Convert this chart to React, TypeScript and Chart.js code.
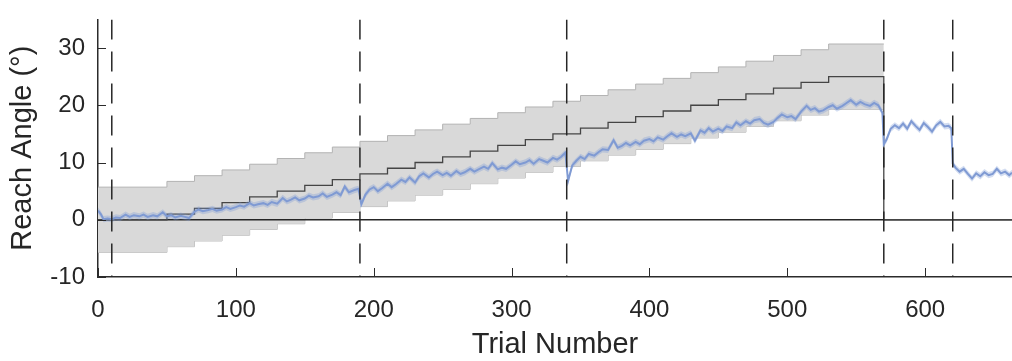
import React, { useEffect, useRef } from 'react';
import { Chart, registerables } from 'chart.js';

Chart.register(...registerables);

// ---- data ----
const trials = [
  0, 2, 4, 7, 10, 13, 16, 20, 23, 26,
  30, 33, 36, 40, 43, 47, 50, 53, 56, 60,
  63, 66, 70, 73, 76, 80, 83, 86, 90, 93,
  96, 100, 103, 106, 110, 113, 116, 120, 123, 126,
  130, 134, 137, 140, 143, 146, 150, 153, 156, 160,
  163, 166, 170, 173, 176, 179, 182, 186, 189, 191,
  194, 197, 200, 203, 206, 210, 213, 216, 220, 223,
  226, 230, 233, 236, 240, 243, 246, 250, 253, 256,
  260, 263, 266, 270, 273, 276, 280, 283, 286, 290,
  293, 296, 300, 303, 306, 310, 313, 316, 320, 323,
  326, 330, 333, 336, 339, 341, 344, 347, 350, 353,
  356, 360, 363, 366, 370, 374, 377, 380, 383, 386,
  390, 393, 396, 400, 403, 406, 410, 413, 416, 420,
  423, 426, 430, 433, 437, 440, 443, 446, 450, 453,
  456, 460, 463, 466, 470, 473, 476, 480, 483, 486,
  490, 493, 496, 500, 503, 506, 510, 514, 517, 520,
  523, 526, 530, 533, 536, 540, 543, 546, 550, 553,
  556, 560, 563, 566, 569, 570, 572, 575, 578, 581,
  584, 587, 590, 593, 596, 599, 602, 605, 608, 611,
  614, 617, 619, 620, 622, 625, 628, 631, 634, 637,
  640, 643, 646, 649, 652, 655, 658, 661, 663,
];

const meanAngle = [
  1.6, 1.0, 0.1, 0.2, 0.1, 0.4, 0.3, 0.9, 0.5, 0.8,
  0.6, 0.9, 0.5, 0.8, 0.6, 1.3, 0.6, 0.8, 0.4, 0.7,
  0.5, 0.3, 1.4, 1.8, 1.5, 1.7, 1.9, 1.6, 1.8, 2.2,
  1.9, 2.2, 2.5, 2.3, 2.9, 2.5, 2.7, 2.9, 2.6, 3.1,
  2.8, 3.8, 3.2, 3.5, 3.9, 3.4, 3.7, 4.2, 3.9, 4.1,
  4.6, 4.0, 4.4, 4.8, 4.3, 5.8, 4.8, 5.2, 5.4, 2.7,
  4.4, 5.3, 5.7, 5.0, 5.5, 6.3, 5.7, 6.2, 7.0, 6.6,
  7.4, 6.5, 7.6, 8.1, 7.4, 8.0, 8.4, 7.8, 8.2, 7.7,
  8.5, 8.0, 8.3, 8.9, 8.4, 8.8, 9.3, 8.9, 9.9, 8.8,
  9.1, 8.9, 9.6, 10.2, 9.7, 10.0, 10.4, 9.8, 10.6, 10.3,
  10.0, 10.8, 10.5, 11.0, 11.7, 6.8, 9.5, 10.3, 11.0, 10.6,
  11.5, 11.2, 11.8, 12.3, 12.2, 13.9, 12.6, 12.9, 13.4, 13.0,
  13.6, 13.2, 13.8, 14.1, 13.7, 14.4, 14.0, 14.6, 15.1, 14.5,
  14.9, 14.6, 15.1, 13.8, 15.6, 15.2, 16.0, 15.4, 15.9, 15.5,
  16.3, 16.0, 17.0, 16.5, 17.2, 16.8, 17.4, 17.6, 16.9, 16.6,
  17.1, 17.8, 18.4, 17.9, 18.1, 17.6, 18.9, 19.9, 19.2, 19.5,
  18.9, 19.1, 19.7, 20.0, 19.4, 19.9, 20.4, 20.9, 20.1, 20.6,
  20.2, 19.9, 20.4, 20.0, 18.7, 13.2, 14.0, 15.9, 16.5, 16.0,
  16.8, 15.9, 17.2, 16.4, 15.7, 16.9, 16.2, 15.4, 16.5, 17.1,
  16.3, 16.4, 16.0, 9.8, 9.1, 8.4, 8.9, 8.0, 7.2, 8.1,
  7.6, 8.3, 7.8, 8.0, 8.9, 8.1, 8.4, 7.8, 8.2,
];
const MEAN_SE = 0.55;

// perturbation schedule (step function)
const stepTrials = [
  0, 50, 70, 90, 110, 130, 150, 170, 190, 210, 230, 250, 270, 290,
  310, 330, 350, 370, 390, 410, 430, 450, 470, 490, 510, 530, 570, 570, 663,
];
const stepLevels = [
  0, 1, 2, 3, 4, 5, 6, 7, 8, 9, 10, 11, 12, 13,
  14, 15, 16, 17, 18, 19, 20, 21, 22, 23, 24, 25, 25, 0, 0,
];
const BAND_HALF = 5.7;
const BAND_END_INDEX = 27; // band covers steps through trial 570

const phaseBoundaries = [10, 190, 340, 570, 620];
const xTickValues = [0, 100, 200, 300, 400, 500, 600];
const yTickValues = [-10, 0, 10, 20, 30];
const X_MIN = 0;
const X_MAX = 663;
const Y_MIN = -10;
const Y_MAX = 35;

const AXIS_COLOR = '#2b2b2b';
const FONT = '"Liberation Sans", Arial, Helvetica, sans-serif';

const innerTicks = {
  id: 'innerTicks',
  afterDraw(chart: any) {
    const { ctx, chartArea, scales } = chart;
    const xs = scales.x;
    const ys = scales.y;
    ctx.save();
    ctx.strokeStyle = AXIS_COLOR;
    ctx.lineWidth = 1;
    xs.ticks.forEach((t: any) => {
      const px = Math.round(xs.getPixelForValue(t.value)) + 0.5;
      ctx.beginPath();
      ctx.moveTo(px, chartArea.bottom);
      ctx.lineTo(px, chartArea.bottom - 9);
      ctx.stroke();
    });
    ys.ticks.forEach((t: any) => {
      const py = Math.round(ys.getPixelForValue(t.value)) + 0.5;
      ctx.beginPath();
      ctx.moveTo(chartArea.left, py);
      ctx.lineTo(chartArea.left + 8, py);
      ctx.stroke();
    });
    ctx.restore();
  },
};

export default function App() {
  const canvasRef = useRef<HTMLCanvasElement | null>(null);

  useEffect(() => {
    const canvas = canvasRef.current;
    if (!canvas) return;

    const bandTrials = stepTrials.slice(0, BAND_END_INDEX);
    const bandLevels = stepLevels.slice(0, BAND_END_INDEX);
    const upperBand = bandTrials.map((t, i) => ({ x: t, y: bandLevels[i] + BAND_HALF }));
    const lowerBand = bandTrials.map((t, i) => ({ x: t, y: bandLevels[i] - BAND_HALF }));
    const perturb = stepTrials.map((t, i) => ({ x: t, y: stepLevels[i] }));
    const meanPts = trials.map((t, i) => ({ x: t, y: meanAngle[i] }));
    const seUpper = trials.map((t, i) => ({ x: t, y: meanAngle[i] + MEAN_SE }));
    const seLower = trials.map((t, i) => ({ x: t, y: meanAngle[i] - MEAN_SE }));

    const common = { pointRadius: 0, pointHoverRadius: 0, tension: 0 };

    const datasets: any[] = [
      {
        ...common,
        data: upperBand,
        stepped: 'before',
        borderColor: '#b3b3b3',
        borderWidth: 1,
        backgroundColor: '#d9d9d9',
        fill: '+1',
        order: 10,
      },
      {
        ...common,
        data: lowerBand,
        stepped: 'before',
        borderColor: '#b3b3b3',
        borderWidth: 1,
        fill: false,
        order: 10,
      },
      {
        ...common,
        data: [{ x: X_MIN, y: 0 }, { x: X_MAX, y: 0 }],
        borderColor: '#262626',
        borderWidth: 1.5,
        fill: false,
        order: 9,
      },
      {
        ...common,
        data: perturb,
        stepped: 'before',
        borderColor: '#454545',
        borderWidth: 1.3,
        fill: false,
        order: 8,
      },
      {
        ...common,
        data: seUpper,
        borderWidth: 0,
        borderColor: 'rgba(0,0,0,0)',
        backgroundColor: 'rgba(130,158,214,0.35)',
        fill: '+1',
        order: 7,
      },
      {
        ...common,
        data: seLower,
        borderWidth: 0,
        borderColor: 'rgba(0,0,0,0)',
        fill: false,
        order: 7,
      },
      {
        ...common,
        data: meanPts,
        borderColor: '#7f9ad3',
        borderWidth: 2,
        fill: false,
        order: 6,
      },
      ...phaseBoundaries.map((b) => ({
        ...common,
        data: [{ x: b, y: Y_MAX }, { x: b, y: Y_MIN }],
        borderColor: '#262626',
        borderWidth: 1.5,
        borderDash: [20, 12],
        fill: false,
        order: 5,
      })),
    ];

    const chart = new Chart(canvas, {
      type: 'line',
      data: { datasets },
      plugins: [innerTicks],
      options: {
        animation: false,
        responsive: false,
        maintainAspectRatio: false,
        parsing: false as any,
        normalized: true,
        layout: { padding: { left: 0, top: 16, right: 0, bottom: 0 } },
        plugins: {
          legend: { display: false },
          tooltip: { enabled: false },
        },
        scales: {
          x: {
            type: 'linear',
            min: X_MIN,
            max: X_MAX,
            afterBuildTicks: (scale: any) => {
              scale.ticks = xTickValues.map((v) => ({ value: v }));
            },
            afterFit: (scale: any) => {
              scale.height = 84;
            },
            grid: { display: false },
            border: { display: true, color: AXIS_COLOR, width: 1.5 },
            ticks: {
              color: '#262626',
              font: { family: FONT, size: 24 },
              padding: 11,
              maxRotation: 0,
              autoSkip: false,
            },
            title: {
              display: true,
              text: 'Trial Number',
              color: '#262626',
              font: { family: FONT, size: 29, lineHeight: 1.1 },
              padding: 0,
            },
          },
          y: {
            type: 'linear',
            min: Y_MIN,
            max: Y_MAX,
            afterBuildTicks: (scale: any) => {
              scale.ticks = yTickValues.map((v) => ({ value: v }));
            },
            afterFit: (scale: any) => {
              scale.width = 98;
            },
            grid: { display: false },
            border: { display: true, color: AXIS_COLOR, width: 1.5 },
            ticks: {
              color: '#262626',
              font: { family: FONT, size: 24 },
              padding: 5,
              autoSkip: false,
            },
            title: {
              display: true,
              text: 'Reach Angle (°)',
              color: '#262626',
              font: { family: FONT, size: 29, lineHeight: 1.1 },
              padding: { top: 7, bottom: 0 },
            },
          },
        },
      },
    });

    return () => {
      chart.destroy();
    };
  }, []);

  return (
    <div style={{ position: 'absolute', left: 0, top: 0, width: 1012, height: 361, background: '#ffffff' }}>
      <canvas ref={canvasRef} width={1012} height={361} style={{ display: 'block', width: 1012, height: 361 }} />
    </div>
  );
}
